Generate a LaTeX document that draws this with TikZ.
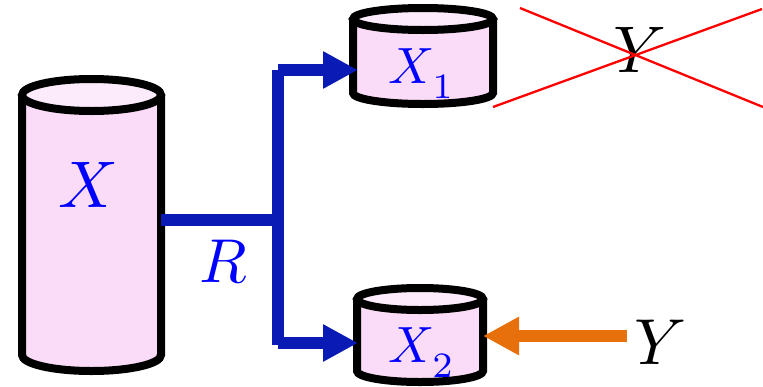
\documentclass[tikz,border=0pt]{standalone}
\usepackage{graphicx}
\usetikzlibrary{arrows.meta}
\definecolor{cylfill}{HTML}{FADCF8}
\definecolor{cyltop}{HTML}{FCEBFB}
\definecolor{conblue}{HTML}{0A1AB4}
\definecolor{labblue}{HTML}{0000FF}
\definecolor{arrorange}{HTML}{E8700C}
\newcommand{\mycyl}[5]{% cx, rx, ytop, ybot, ry
  \path[cylbody] (#1-#2,#3) -- (#1-#2,#4) arc[start angle=180,end angle=0,x radius=#2,y radius=#5] -- (#1+#2,#3);
  \path[cyltopst] (#1,#3) ellipse[x radius=#2,y radius=#5];
}
\begin{document}
\begin{tikzpicture}[x=1pt,y=-1pt,
  cylbody/.style={draw=black,line width=8pt,fill=cylfill},
  cyltopst/.style={draw=black,line width=8pt,fill=cyltop},
  conn/.style={draw=conblue,line width=11.5pt},
  connarrow/.style={conn,-{Triangle[length=35pt,width=35pt]}},
  inarrow/.style={draw=arrorange,line width=12pt,-{Triangle[length=36pt,width=36pt]}},
  lab/.style={inner sep=0pt,text=labblue},
  cross/.style={draw=red,line width=2.3pt}]
\useasboundingbox (0,0) rectangle (763,386);
% cylinders
\mycyl{91.5}{69.5}{95}{355}{16}
\mycyl{423}{70}{19}{93}{11}
\mycyl{420}{63}{299}{371}{11}
% labels
\node[lab,anchor=center] (X) at (88,185) {\scalebox{6.6}{$X$}};
\node[lab,anchor=base west] (X1) at (388,83) {\scalebox{5.1}{$X_{\kern0.4pt\raisebox{-1.6pt}{$\scriptstyle 1$}}$}};
\node[lab,anchor=base west] (X2) at (388,362) {\scalebox{5.1}{$X_{\kern0.4pt\raisebox{-1.6pt}{$\scriptstyle 2$}}$}};
\node[lab,anchor=center] (R) at (223,261) {\scalebox{6.2}{$R$}};
\node[inner sep=0pt,anchor=center] (Ytop) at (640,50) {\scalebox{6.6}{$Y$}};
\node[inner sep=0pt,anchor=center] (Ybot) at (661,342) {\scalebox{6.5}{$Y$}};
% connector points
\coordinate (Xe) at (161,220);
\coordinate (J) at (278,220);
\coordinate (Jt) at (278,70);
\coordinate (Jb) at (278,345);
\coordinate (Bt) at (278,70);
\coordinate (Bb) at (278,343);
\coordinate (X1w) at (358,70);
\coordinate (X2w) at (358,343);
\coordinate (X2e) at (483,336);
\coordinate (Yw) at (627,336);
% blue connectors
\path[conn] (Xe) -- (J);
\path[conn] (Jt) -- (Jb);
\path[connarrow] (Bt) -- (X1w);
\path[connarrow] (Bb) -- (X2w);
% orange
\path[inarrow] (Yw) -- (X2e);
% red cross
\coordinate (a1) at (520,8);
\coordinate (a2) at (763,107);
\coordinate (b1) at (493,107);
\coordinate (b2) at (762,9);
\path[cross] (a1) -- (a2);
\path[cross] (b1) -- (b2);
\end{tikzpicture}
\end{document}
